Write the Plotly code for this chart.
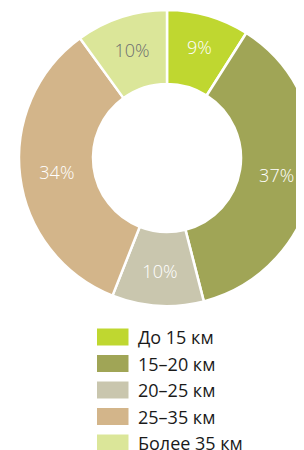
import plotly.graph_objects as go

categories = ["До 15 км", "15–20 км", "20–25 км", "25–35 км", "Более 35 км"]
values = [9, 37, 10, 34, 10]
colors = ["#bfd730", "#a0a556", "#c9c6ae", "#d3b58a", "#dbe699"]
text_colors = ["#ffffff", "#ffffff", "#ffffff", "#ffffff", "#6d6e71"]

# the page body has an 8px default margin; work in reference pixels and shift
OFF = 8
W, H = 320, 442
FONT = "Open Sans"


def px(x):
    return (x - OFF) / W


def py(y):
    return (H - (y - OFF)) / H


fig = go.Figure(go.Pie(
    labels=categories,
    values=values,
    sort=False,
    direction="clockwise",
    rotation=0,
    hole=0.5,
    marker=dict(colors=colors, line=dict(color="#ffffff", width=2.5)),
    texttemplate="%{value}%",
    textposition="inside",
    insidetextorientation="horizontal",
    insidetextfont=dict(family=FONT, size=18, color=text_colors, weight=300),
    domain=dict(x=[px(19), px(315)], y=[py(306), py(10)]),
    showlegend=False,
    hoverinfo="label+percent",
))

# custom legend below the donut
shapes = []
annotations = []
row_y0 = 337
row_step = 26.5
for i, (cat, col) in enumerate(zip(categories, colors)):
    yc = row_y0 + i * row_step
    shapes.append(dict(
        type="rect", xref="paper", yref="paper",
        x0=px(97), x1=px(128.5),
        y0=py(yc + 8.5), y1=py(yc - 8.5),
        fillcolor=col, line=dict(width=0),
    ))
    annotations.append(dict(
        text=cat, xref="paper", yref="paper",
        x=px(137), y=py(yc), xanchor="left", yanchor="middle",
        showarrow=False, borderpad=0,
        font=dict(family=FONT, size=18, color="#1a1a1a"),
    ))

fig.update_layout(
    width=W, height=H,
    margin=dict(l=0, r=0, t=0, b=0),
    paper_bgcolor="#ffffff",
    plot_bgcolor="#ffffff",
    shapes=shapes,
    annotations=annotations,
    font=dict(family=FONT),
)

fig.write_html("out.html", config={"displayModeBar": False})
